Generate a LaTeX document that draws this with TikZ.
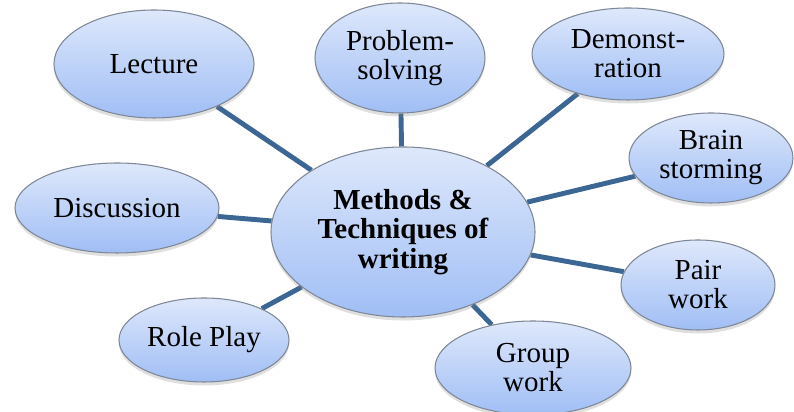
\documentclass[tikz,border=0pt]{standalone}
\usepackage{fontspec}
\setmainfont{Liberation Serif}
\newfontfamily\bubfont{Liberation Serif}
\usetikzlibrary{shapes.geometric,shadows,backgrounds}
\definecolor{bubtop}{RGB}{222,232,251}
\definecolor{bubbot}{RGB}{160,190,245}
\definecolor{bubline}{RGB}{125,135,150}
\definecolor{linkcol}{RGB}{60,102,148}
\tikzset{
  bubble/.style={ellipse, draw=bubline, line width=0.6pt, top color=bubtop, bottom color=bubbot,
    inner sep=0pt, align=center, font=\bubfont\fontsize{16.5}{16.5}\selectfont,
    drop shadow={shadow xshift=0pt, shadow yshift=-2pt, opacity=0.25}},
  link/.style={draw=linkcol, line width=2.8pt}
}
\begin{document}
\begin{tikzpicture}

\useasboundingbox (0,0) rectangle (15.88,8.24);

\node[bubble, minimum width=5.28cm, minimum height=3.4cm,
  font=\bubfont\bfseries\fontsize{16.5}{16.8}\selectfont] (main) at (8.06, 3.60) {Methods \&\\Techniques of\\writing};

\node[bubble, minimum width=4.0cm, minimum height=2.16cm] (lecture) at (3.08, 6.96) {Lecture};
\node[bubble, minimum width=3.4cm, minimum height=2.2cm] (problem) at (8.0, 7.08) {Problem-\\solving};
\node[bubble, minimum width=3.84cm, minimum height=1.84cm] (demo) at (12.56, 7.16) {Demonst-\\ration};
\node[bubble, minimum width=3.28cm, minimum height=1.8cm] (brain) at (14.22, 5.08) {Brain\\storming};
\node[bubble, minimum width=4.08cm, minimum height=1.8cm] (discuss) at (2.34, 4.08) {Discussion};
\node[bubble, minimum width=3.4cm, minimum height=1.68cm] (role) at (4.08, 1.44) {Role Play};
\node[bubble, minimum width=3.08cm, minimum height=1.8cm] (pair) at (13.96, 2.54) {Pair\\work};
\node[bubble, minimum width=3.92cm, minimum height=1.88cm] (group) at (10.66, 0.88) {Group\\work};

\begin{pgfonlayer}{background}
\foreach \n in {lecture,problem,demo,brain,discuss,role,pair,group}
	\draw[link] (main) -- (\n);
\end{pgfonlayer}

\end{tikzpicture}
\end{document}
